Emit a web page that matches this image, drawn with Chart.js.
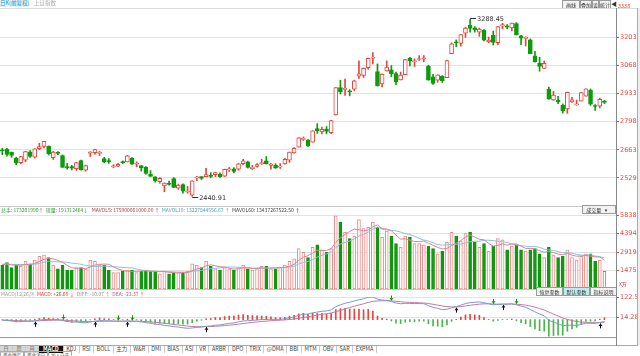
<!DOCTYPE html>
<html>
<head>
<meta charset="utf-8">
<script src="https://cdn.jsdelivr.net/npm/chart.js@4.4.1/dist/chart.umd.min.js"></script>
<style>
  body { margin: 0; width: 640px; height: 356px; background: #fff; position: relative; overflow: hidden;
         font-family: "Noto Sans CJK SC", "DejaVu Sans", sans-serif; }
  canvas { position: absolute; left: 0; }
  .t { position: absolute; white-space: nowrap; font-size: 6px; line-height: 7px; }
  .hl { position: absolute; left: 0; width: 616px; height: 1px; background: #c8c8c8; }
  .btn { position: absolute; height: 7px; border: 1px solid #9a9a9a; background: #f2f2f2; font-size: 5px;
         line-height: 7px; text-align: center; color: #333; overflow: hidden; }
  #tabs span { display: inline-block; padding: 0 2.5px; border-right: 1px solid #c9c9c9; color: #444; }
  #tabs span.ic { width: 10px; padding: 0 1px; background: #d6d6d6; color: #777; overflow: hidden; vertical-align: top; text-align: center; }
</style>
</head>
<body>
<canvas id="k" style="top:8px" width="640" height="198"></canvas>
<canvas id="vol" style="top:206px" width="640" height="83"></canvas>
<canvas id="macd" style="top:290px" width="640" height="55"></canvas>

<!-- top bar -->
<div class="t" style="left:0;top:0;color:#2a8fb5;background:#e3f4fa;font-size:5.5px">日K(前复权)</div>
<div class="t" style="left:34px;top:0;color:#aaa;font-size:5.5px">上证指数</div>
<div class="btn" style="left:562px;top:0;width:16px">画线</div>
<div class="btn" style="left:580px;top:0;width:10px">叠加</div>
<div class="btn" style="left:592px;top:0;width:5px">设</div>
<div class="btn" style="left:599px;top:0;width:10px">统计</div>
<div class="t" style="left:611px;top:0;color:#333;font-size:6px">◀</div>
<div class="t" style="left:618px;top:3px;color:#e8453c;font-size:5.5px">3338</div>
<div class="hl" style="top:8px;width:640px;background:#ddd"></div>

<!-- volume header -->
<div class="hl" style="top:206px"></div>
<div class="t" style="left:1px;top:206px;font-size:5px">
  <span style="color:#2f9a2f">总手: 173201990↑</span>&nbsp;
  <span style="color:#2f9a2f">现量: 191312464↓</span>&nbsp;&nbsp;
  <span style="color:#b03a3a">MAVOL5: 175900061000.00 ↑</span>&nbsp;
  <span style="color:#4a9fb8">MAVOL10: 13227844556.67 ↑</span>&nbsp;
  <span style="color:#444">MAVOL60: 13437267522.50 <b style="color:#d33">↑</b></span>
</div>
<div class="btn" style="left:582px;top:205px;width:32px;text-align:left">&nbsp;&nbsp;&nbsp;成交量 &nbsp;&nbsp;▾</div>
<div class="t" style="left:619px;top:280px;color:#d33;font-size:5px">X万</div>

<!-- macd header -->
<div class="hl" style="top:289px"></div>
<div class="t" style="left:1px;top:290px;font-size:5px">
  <span style="color:#999">MACD(12,26,9)</span>&nbsp;
  <span style="color:#d33">MACD: +26.69 ↓</span>&nbsp;
  <span style="color:#888">DIFF: -10.07 ↑</span>&nbsp;
  <span style="color:#c0508a">DEA: -23.37 ↑</span>
</div>
<div class="btn" style="left:536px;top:287px;width:25px">恢复参数</div>
<div class="btn" style="left:563px;top:287px;width:25px;background:#bfeaf2">默认参数</div>
<div class="btn" style="left:590px;top:287px;width:25px">指标说明</div>

<!-- bottom tabs -->
<div class="hl" style="top:345px;width:640px;background:#aaa"></div>
<div class="t" id="tabs" style="left:0;top:346px;font-size:5.5px">
  <span class="ic">日</span><span class="ic">周</span><span class="ic">月</span><span style="background:#111;color:#fff;font-weight:bold;padding:0 4px">MACD</span><span>KDJ</span><span>RSI</span><span>BOLL</span><span>主力</span><span>W&amp;R</span><span>DMI</span><span>BIAS</span><span>ASI</span><span>VR</span><span>ARBR</span><span>DPO</span><span>TRIX</span><span>@DMA</span><span>BBI</span><span>MTM</span><span>OBV</span><span>SAR</span><span>EXPMA</span>
</div>
<div class="t" style="left:0;top:352px;font-size:4.5px;color:#555">
  <span style="border:1px solid #aaa;padding:0 2px">资金博弈</span><span style="border:1px solid #aaa;padding:0 2px">资金流向</span><span style="border:1px solid #aaa;padding:0 2px">加入自选</span>
</div>
<div style="position:absolute;left:616px;top:8px;width:1px;height:338px;background:#888"></div>
<div style="position:absolute;left:637px;top:8px;width:1px;height:338px;background:#aaa"></div>
<div style="position:absolute;left:638px;top:8px;width:2px;height:338px;background:#eee"></div>

<script>
// 上证指数 日K 2018-11-06 ~ 2019-05-22
const dates = [
  '11-06','11-07','11-08','11-09','11-12','11-13','11-14','11-15','11-16','11-19','11-20','11-21','11-22','11-23','11-26','11-27','11-28','11-29','11-30',
  '12-03','12-04','12-05','12-06','12-07','12-10','12-11','12-12','12-13','12-14','12-17','12-18','12-19','12-20','12-21','12-24','12-25','12-26','12-27','12-28',
  '01-02','01-03','01-04','01-07','01-08','01-09','01-10','01-11','01-14','01-15','01-16','01-17','01-18','01-21','01-22','01-23','01-24','01-25','01-28','01-29','01-30','01-31',
  '02-01','02-11','02-12','02-13','02-14','02-15','02-18','02-19','02-20','02-21','02-22','02-25','02-26','02-27','02-28',
  '03-01','03-04','03-05','03-06','03-07','03-08','03-11','03-12','03-13','03-14','03-15','03-18','03-19','03-20','03-21','03-22','03-25','03-26','03-27','03-28','03-29',
  '04-01','04-02','04-03','04-04','04-08','04-09','04-10','04-11','04-12','04-15','04-16','04-17','04-18','04-19','04-22','04-23','04-24','04-25','04-26','04-29','04-30',
  '05-06','05-07','05-08','05-09','05-10','05-13','05-14','05-15','05-16','05-17','05-20','05-21','05-22'
];
const open = [
  2660,2667,2651,2622,2602,2614,2654,2628,2669,2679,2681,2626,2652,2636,2583,2583,2573,2612,2566,
  2647,2650,2646,2621,2612,2582,2585,2603,2605,2623,2594,2588,2581,2547,2534,2511,2490,2502,2525,2480,
  2497,2461,2446,2529,2535,2535,2539,2544,2547,2537,2567,2572,2571,2597,2606,2573,2584,2597,2611,2589,2589,2580,
  2596,2614,2649,2676,2713,2711,2700,2765,2749,2763,2746,2830,2962,2953,2945,
  2954,3016,3020,3057,3103,3038,2979,3042,3047,3029,2998,3023,3103,3086,3096,3098,3065,3013,2997,3015,3009,
  3124,3178,3173,3222,3260,3248,3227,3236,3181,3212,3177,3256,3257,3247,3268,3210,3197,3190,3114,3079,3053,
  2954,2902,2901,2876,2859,2893,2879,2897,2921,2949,2873,2873,2897
];
const high = [
  2671,2671,2653,2628,2632,2656,2660,2669,2695,2704,2682,2656,2655,2639,2598,2589,2602,2614,2590,
  2654,2666,2656,2627,2621,2592,2599,2610,2637,2626,2606,2588,2583,2564,2535,2531,2505,2513,2530,2499,
  2500,2488,2515,2536,2535,2574,2554,2556,2553,2571,2579,2578,2598,2618,2609,2589,2597,2618,2631,2598,2597,2597,
  2622,2653,2674,2722,2725,2712,2755,2789,2772,2775,2805,2961,2997,3002,2952,
  2997,3090,3055,3103,3129,3075,3027,3090,3067,3036,3036,3096,3106,3099,3115,3115,3069,3025,3023,3019,3093,
  3176,3190,3216,3251,3288.45,3254,3247,3240,3204,3232,3254,3270,3264,3271,3273,3212,3205,3195,3135,3107,3089,
  2964,2944,2920,2883,2940,2915,2902,2939,2956,2955,2880,2911,2900
];
const low = [
  2640,2633,2627,2592,2596,2606,2627,2624,2664,2672,2638,2617,2640,2579,2570,2567,2565,2566,2561,
  2631,2642,2636,2601,2598,2577,2582,2597,2605,2593,2582,2561,2547,2536,2508,2503,2462,2494,2482,2474,
  2456,2455,2440.91,2516,2521,2533,2530,2535,2531,2535,2559,2553,2565,2592,2576,2569,2580,2593,2595,2571,2575,2574,
  2595,2603,2647,2676,2708,2679,2700,2742,2740,2740,2741,2830,2931,2924,2922,
  2947,3006,3010,3050,3075,2969,2965,3040,3013,2976,2998,3023,3065,3063,3092,3085,2997,2977,2987,2986,3009,
  3124,3157,3160,3202,3227,3227,3207,3185,3176,3166,3167,3243,3244,3233,3213,3167,3161,3124,3083,3040,3053,
  2906,2900,2884,2839,2838,2890,2877,2897,2920,2876,2852,2864,2885
];
const close = [
  2659,2641,2636,2599,2631,2655,2632,2668,2679,2704,2645,2652,2646,2579,2576,2575,2602,2567,2588,
  2654,2665,2649,2605,2606,2584,2594,2602,2634,2594,2598,2576,2550,2536,2516,2527,2504,2498,2483,2494,
  2465,2464,2515,2533,2526,2544,2536,2554,2535,2570,2570,2560,2596,2610,2579,2581,2592,2601,2597,2594,2575,2585,
  2618,2653,2671,2721,2719,2682,2754,2755,2761,2751,2804,2961,2941,2954,2941,
  2994,3027,3054,3102,3106,2969,3026,3060,3027,2990,3022,3096,3091,3091,3101,3104,2997,2982,3023,2995,3091,
  3171,3176,3216,3247,3245,3239,3242,3189,3189,3178,3254,3263,3251,3271,3215,3198,3202,3124,3086,3063,3078,
  2906,2926,2893,2850,2939,2903,2883,2938,2955,2882,2871,2905,2891
];
// 成交量 (万)
const volume = [
  1900,2100,1700,1900,1800,2200,2000,2300,2600,2700,2500,1900,1600,1900,1500,1500,1700,1700,1600,
  2300,2200,1900,1900,1500,1300,1300,1400,1500,1500,1300,1400,1500,1400,1400,1200,1400,1200,1300,1300,
  1300,1400,2000,1900,1700,2200,1800,1600,1500,1700,1600,1500,1700,1900,1600,1500,1600,1800,1800,1600,1600,1700,
  1900,2200,2400,3200,2900,2500,3300,3500,3100,2900,3200,5800,5300,4500,4000,
  4200,5500,4800,4900,5300,4900,4100,4600,4200,3600,3300,4200,4100,3600,3600,3500,3400,3200,2800,3000,3700,
  4500,4200,3800,4400,4500,3700,3300,3600,3000,3400,4000,3900,3100,3400,3500,3100,3000,3100,3200,2800,2500,
  3300,2700,2500,2600,3100,2500,2300,2600,2800,2800,2200,2300,1400
];
const mavol5 = [
  1950,2000,1900,1900,1880,1940,1920,2040,2180,2360,2420,2400,2260,2120,1880,1680,1640,1660,1600,
  1760,1900,1940,1980,1960,1760,1580,1480,1400,1400,1400,1420,1440,1420,1400,1380,1380,1320,1300,1280,
  1300,1300,1460,1580,1660,1840,1920,1840,1760,1760,1640,1580,1600,1680,1660,1640,1660,1680,1660,1660,1680,1700,
  1720,1800,1960,2280,2520,2640,2860,3080,3060,3060,3200,3700,4060,4340,4560,
  4760,4700,4600,4680,4940,5080,4800,4760,4620,4280,3960,3980,3880,3760,3760,3800,3640,3460,3300,3180,3220,
  3440,3640,3840,4120,4280,4120,3940,3900,3620,3400,3460,3580,3480,3560,3580,3400,3220,3220,3180,3040,2920,
  2980,2900,2760,2720,2840,2680,2600,2620,2660,2600,2540,2540,2300
];
const mavol10 = [
  1950,1980,1950,1950,1940,1945,1960,1970,2040,2120,2180,2160,2150,2150,2120,2050,2020,1960,1860,
  1820,1790,1790,1820,1780,1760,1740,1710,1690,1680,1580,1500,1460,1410,1400,1390,1400,1380,1360,1340,
  1340,1340,1390,1440,1470,1570,1610,1650,1670,1710,1740,1750,1720,1720,1710,1640,1620,1640,1670,1660,1660,1680,
  1700,1730,1810,1980,2110,2180,2330,2520,2670,2790,2920,3280,3570,3700,3810,
  3980,4200,4330,4510,4750,4920,4750,4680,4650,4610,4520,4390,4320,4190,4020,3880,3810,3670,3530,3470,3510,
  3540,3550,3570,3650,3750,3780,3790,3870,3870,3840,3790,3760,3690,3590,3490,3430,3400,3350,3370,3310,3160,
  3100,3060,2970,2880,2880,2830,2750,2690,2690,2720,2610,2570,2460
];
const diff = [
  -3,-5,-7,-11,-11,-9,-9,-6,-3,1,0,0,0,-5,-10,-13,-13,-16,-17,
  -12,-8,-5,-6,-6,-8,-9,-9,-7,-9,-9,-12,-16,-20,-25,-27,-31,-34,-38,-40,
  -44,-47,-45,-42,-40,-36,-34,-30,-29,-24,-20,-18,-12,-7,-6,-4,-2,0,1,2,1,2,
  5,10,15,23,29,30,37,41,45,47,53,70,80,89,94,
  101,107,113,121,122,111,106,104,98,90,86,88,88,87,87,86,76,66,61,54,56,
  64,70,78,87,92,94,96,91,86,80,82,84,84,86,80,73,67,55,42,30,21,
  -4,-13,-22,-33,-30,-30,-31,-26,-19,-20,-20,-15,-10
];
const dea = [
  -2.2,-2.8,-3.6,-5.1,-6.3,-6.8,-7.3,-7.0,-6.2,-4.8,-3.8,-3.1,-2.4,-3.0,-4.4,-6.1,-7.5,-9.2,-10.7,
  -11.0,-10.4,-9.3,-8.7,-8.1,-8.1,-8.3,-8.4,-8.1,-8.3,-8.5,-9.2,-10.5,-12.4,-14.9,-17.4,-20.1,-22.9,-25.9,-28.7,
  -31.8,-34.8,-36.9,-37.9,-38.3,-37.9,-37.1,-35.7,-34.3,-32.3,-29.8,-27.5,-24.4,-20.9,-17.9,-15.1,-12.5,-10.0,-7.8,-5.8,-4.5,-3.2,
  -1.5,0.8,3.6,7.5,11.8,15.4,19.8,24.0,28.2,32.0,36.2,42.9,50.4,58.1,65.3,
  72.4,79.3,86.1,93.1,98.8,101.3,102.2,102.6,101.7,99.3,96.7,94.9,93.5,92.2,91.2,90.1,87.3,83.1,78.6,73.7,70.2,
  68.9,69.2,70.9,74.1,77.7,81.0,84.0,85.4,85.5,84.4,83.9,83.9,83.9,84.4,83.5,81.4,78.5,73.8,67.4,60.0,52.2,
  40.9,30.1,19.7,9.2,1.3,-4.9,-10.1,-13.3,-14.5,-15.6,-16.5,-16.2,-14.9
];
const macd = [
  -1.6,-4.4,-6.8,-11.8,-9.4,-4.4,-3.4,2.0,6.4,11.6,7.6,6.2,4.8,-4.0,-11.2,-13.8,-11.0,-13.6,-12.6,
  -2.0,4.8,8.6,5.4,4.2,0.2,-1.4,-1.2,2.2,-1.4,-1.0,-5.6,-11.0,-15.2,-20.2,-19.2,-21.8,-22.2,-24.2,-22.6,
  -24.4,-24.4,-16.2,-8.2,-3.4,3.8,6.2,11.4,10.6,16.6,19.6,19.0,24.8,27.8,23.8,22.2,21.0,20.0,17.6,15.6,11.0,10.4,
  13.0,18.4,22.8,31.0,34.4,29.2,34.4,34.0,33.6,30.0,33.6,54.2,59.2,61.8,57.4,
  57.2,55.4,53.8,55.8,46.4,19.4,7.6,2.8,-7.4,-18.6,-21.4,-13.8,-11.0,-10.4,-8.4,-8.2,-22.6,-34.2,-35.2,-39.4,-28.4,
  -9.8,1.6,14.2,25.8,28.6,26.0,24.0,11.2,1.0,-8.8,-3.8,0.2,0.2,3.2,-7.0,-16.8,-23.0,-37.6,-50.8,-60.0,-62.4,
  -89.8,-86.2,-83.4,-84.4,-62.6,-50.2,-41.8,-25.4,-9.0,-8.8,-7.0,2.4,9.8
];
const priceTicks = [2529, 2663, 2798, 2933, 3068, 3203];
const volTicks = [1475, 2919, 4394, 5838];
const macdTicks = [14.28, 122.5];

const RED = '#e8453c', GREEN = '#0d9a0d', PINK = '#f08a8a';
const slots = dates.concat(['', '']);   // a little room on the right like the terminal
const up = close.map((c, i) => c >= open[i]);

function rightAxis(min, max, ticks, fmt) {
  return {
    position: 'right', min, max,
    afterBuildTicks: s => { s.ticks = ticks.map(v => ({ value: v })); },
    afterFit: s => { s.width = 24; s.paddingTop = 0; s.paddingBottom = 0; },
    ticks: { color: RED, font: { size: 6.5, family: 'DejaVu Sans' }, padding: 1, callback: fmt },
    grid: { color: '#e2e2e2', tickColor: RED, tickLength: 3 },
    border: { display: false }
  };
}
const hiddenX = { display: false, offset: true, grid: { display: false } };
const base = { responsive: false, animation: false, events: [],
  plugins: { legend: { display: false }, tooltip: { enabled: false } } };

// price extreme markers
const extremes = {
  id: 'extremes',
  afterDatasetsDraw(chart) {
    const { ctx, scales: { x, y } } = chart;
    const hi = high.indexOf(Math.max(...high));
    const lo = low.indexOf(Math.min(...low));
    ctx.save();
    ctx.font = '6.5px "DejaVu Sans"';
    ctx.fillStyle = '#333'; ctx.strokeStyle = '#333'; ctx.lineWidth = 1;
    [[hi, high[hi], -1], [lo, low[lo], 1]].forEach(([i, v, d]) => {
      const px = x.getPixelForValue(i), py = Math.round(y.getPixelForValue(v) + d) + 0.5;
      ctx.beginPath(); ctx.moveTo(px, py); ctx.lineTo(px + 6, py); ctx.stroke();
      ctx.fillText(v.toFixed(2), px + 7, py + 2.5);
    });
    ctx.restore();
  }
};

new Chart(document.getElementById('k'), {
  type: 'bar',
  data: {
    labels: slots,
    datasets: [
      { data: high.map((h, i) => [low[i], h]), backgroundColor: up.map(u => u ? RED : GREEN),
        barThickness: 1, grouped: false, order: 2 },
      { data: open.map((o, i) => [o, close[i]]), backgroundColor: up.map(u => u ? '#fff' : GREEN),
        borderColor: up.map(u => u ? RED : GREEN), borderWidth: 1, borderSkipped: false,
        barThickness: 4, minBarLength: 1, grouped: false, order: 1 }
    ]
  },
  options: { ...base, layout: { padding: 0 },
    scales: { x: hiddenX, y: rightAxis(2394, 3343, priceTicks, v => v) } },
  plugins: [extremes]
});

new Chart(document.getElementById('vol'), {
  type: 'bar',
  data: {
    labels: slots,
    datasets: [
      { type: 'line', data: mavol5, borderColor: '#d9849b', borderWidth: 1, pointRadius: 0, order: 0 },
      { type: 'line', data: mavol10, borderColor: '#8cc3dc', borderWidth: 1, pointRadius: 0, order: 0 },
      { data: volume, backgroundColor: volume.map((v, i) => i === volume.length - 1 ? '#fff' : up[i] ? '#fff' : GREEN),
        borderColor: volume.map((v, i) => i === volume.length - 1 ? '#888' : up[i] ? PINK : GREEN),
        borderWidth: 1, borderSkipped: false, barThickness: 3, order: 1 }
    ]
  },
  options: { ...base, layout: { padding: { top: 8 } },
    scales: { x: hiddenX, y: rightAxis(0, 5950, volTicks, v => v) } }
});

// DIFF / DEA cross arrows
const crosses = {
  id: 'crosses',
  afterDatasetsDraw(chart) {
    const { ctx, scales: { x, y } } = chart;
    ctx.save();
    for (let i = 1; i < diff.length; i++) {
      const a = diff[i - 1] - dea[i - 1], b = diff[i] - dea[i];
      if (a * b >= 0) continue;
      const px = Math.round(x.getPixelForValue(i)) + 0.5, py = y.getPixelForValue(diff[i]);
      const golden = b > 0;
      ctx.strokeStyle = ctx.fillStyle = golden ? '#111' : GREEN;
      const tip = golden ? py + 1 : py - 1, tail = golden ? py + 6 : py - 6;
      ctx.beginPath(); ctx.moveTo(px, tip); ctx.lineTo(px, tail); ctx.stroke();
      ctx.beginPath(); ctx.moveTo(px, tip); ctx.lineTo(px - 2, tip + (golden ? 2.5 : -2.5));
      ctx.lineTo(px + 2, tip + (golden ? 2.5 : -2.5)); ctx.closePath(); ctx.fill();
    }
    ctx.restore();
  }
};

new Chart(document.getElementById('macd'), {
  type: 'bar',
  data: {
    labels: slots,
    datasets: [
      { type: 'line', data: diff, borderColor: '#7d9bc7', borderWidth: 1, pointRadius: 0, order: 0 },
      { type: 'line', data: dea, borderColor: '#c877a8', borderWidth: 1, pointRadius: 0, order: 0 },
      { data: macd, backgroundColor: macd.map(v => v >= 0 ? RED : '#49b649'), barThickness: 1, order: 1 }
    ]
  },
  options: { ...base, layout: { padding: { top: 7 } },
    scales: {
      x: { offset: true, grid: { display: false }, border: { color: '#999' },
        afterFit: s => { s.height = 8; s.paddingLeft = 0; s.paddingRight = 0; },
        ticks: { autoSkip: false, maxRotation: 0, padding: 1, color: '#555', font: { size: 6, family: 'DejaVu Sans' },
          callback: (v, i) => (i < dates.length && (i === 0 || dates[i].slice(0, 2) !== dates[i - 1].slice(0, 2))) ? dates[i].slice(0, 2) : '' } },
      y: rightAxis(-93.94, 122.5, macdTicks, v => v)
    } },
  plugins: [crosses]
});
</script>
</body>
</html>
